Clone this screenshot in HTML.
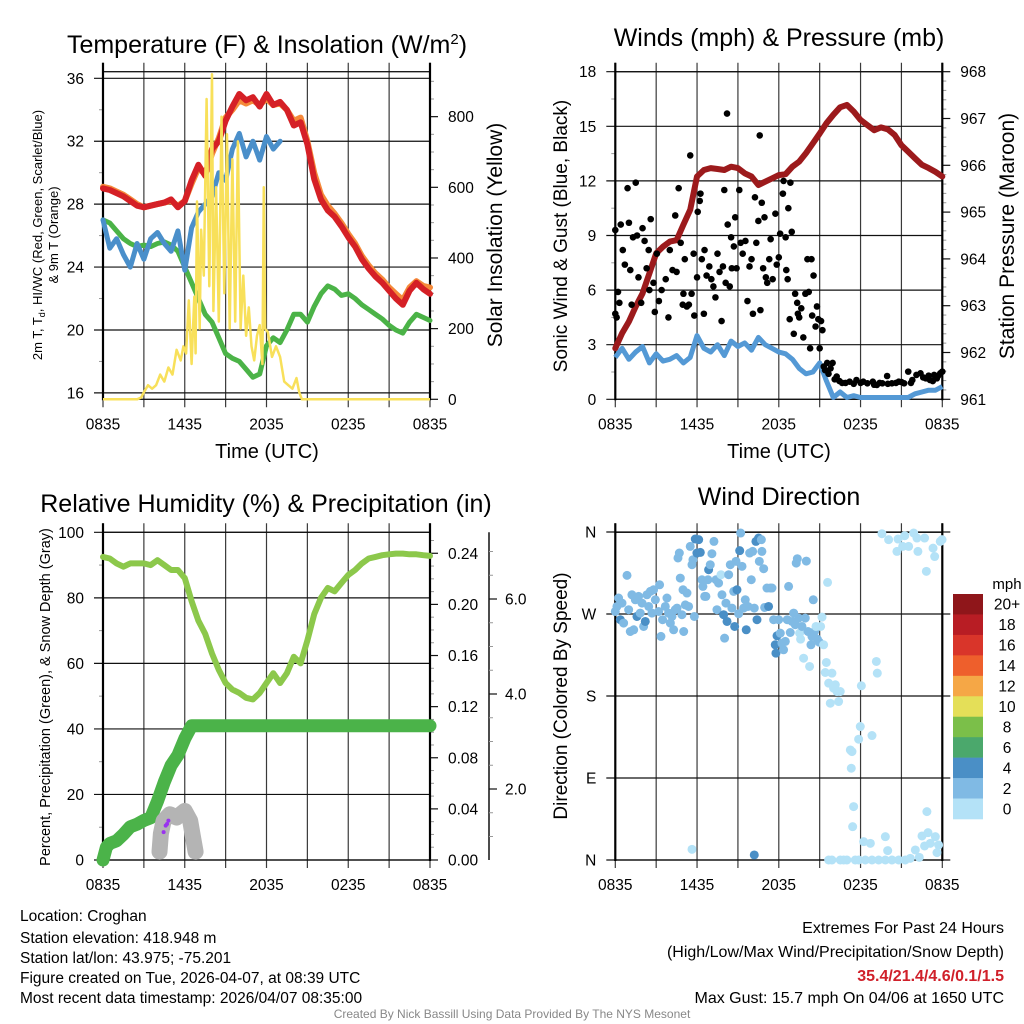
<!DOCTYPE html>
<html><head><meta charset="utf-8"><title>Croghan Meteogram</title>
<style>
html,body{margin:0;padding:0;background:#fff;}
svg{display:block;font-family:"Liberation Sans",Arial,sans-serif;}
</style></head>
<body>
<svg id="chart" width="1024" height="1024" viewBox="0 0 1024 1024" xmlns="http://www.w3.org/2000/svg">
<rect x="0" y="0" width="1024" height="1024" fill="#fff"/>
<text x="267" y="53" font-size="25" text-anchor="middle">Temperature (F) &amp; Insolation (W/m<tspan dy="-9" font-size="15">2</tspan><tspan dy="9">)</tspan></text>
<text x="779" y="46" font-size="25" text-anchor="middle">Winds (mph) &amp; Pressure (mb)</text>
<text x="266" y="512" font-size="25" text-anchor="middle">Relative Humidity (%) &amp; Precipitation (in)</text>
<text x="779" y="505" font-size="25" text-anchor="middle">Wind Direction</text>
<text x="267" y="458" font-size="20" text-anchor="middle">Time (UTC)</text>
<text x="779" y="458" font-size="20" text-anchor="middle">Time (UTC)</text>
<text transform="translate(42,235) rotate(-90)" font-size="13" text-anchor="middle">2m T, T<tspan font-size="9" dy="3">d</tspan><tspan dy="-3">, HI/WC (Red, Green, Scarlet/Blue)</tspan></text>
<text transform="translate(58,235) rotate(-90)" font-size="13" text-anchor="middle">&amp; 9m T (Orange)</text>
<text transform="translate(502,235) rotate(-90)" font-size="21" text-anchor="middle">Solar Insolation (Yellow)</text>
<text transform="translate(567,236) rotate(-90)" font-size="19" text-anchor="middle">Sonic Wind &amp; Gust (Blue, Black)</text>
<text transform="translate(1014,236) rotate(-90)" font-size="21" text-anchor="middle">Station Pressure (Maroon)</text>
<text transform="translate(50,697) rotate(-90)" font-size="14.5" text-anchor="middle">Percent, Precipitation (Green), &amp; Snow Depth (Gray)</text>
<text transform="translate(567,696) rotate(-90)" font-size="19" text-anchor="middle">Direction (Colored By Speed)</text>
<g font-size="15.5">
<text x="20" y="921">Location: Croghan</text>
<text x="20" y="943">Station elevation: 418.948 m</text>
<text x="20" y="963">Station lat/lon: 43.975; -75.201</text>
<text x="20" y="983">Figure created on Tue, 2026-04-07, at 08:39 UTC</text>
<text x="20" y="1003">Most recent data timestamp: 2026/04/07 08:35:00</text>
</g>
<g font-size="16" text-anchor="end">
<text x="1004" y="933">Extremes For Past 24 Hours</text>
<text x="1004" y="957">(High/Low/Max Wind/Precipitation/Snow Depth)</text>
<text x="1004" y="981" fill="#d0202a" font-weight="bold">35.4/21.4/4.6/0.1/1.5</text>
<text x="1004" y="1003">Max Gust: 15.7 mph On 04/06 at 1650 UTC</text>
</g>
<text x="512" y="1018" font-size="12" fill="#888" text-anchor="middle">Created By Nick Bassill Using Data Provided By The NYS Mesonet</text>
</svg>
<script>
// ---------- data ----------
const hours = [0,0.5,1,1.5,2,2.5,3,3.5,4,4.5,5,5.5,6,6.5,7,7.5,8,8.5,9,9.5,10,10.5,11,11.5,12,12.5,13,13.5,14,14.5,15,15.5,16,16.5,17,17.5,18,18.5,19,19.5,20,20.5,21,21.5,22,22.5,23,23.5,24];
const xTickLabels = ["0835","1435","2035","0235","0835"];
const tempRed = [29.0,28.9,28.7,28.5,28.2,27.9,27.8,27.9,28.0,28.1,28.3,27.8,28.2,29.5,30.5,29.8,31.5,32.0,33.3,34.2,35.0,34.6,34.8,34.2,35.0,34.3,34.5,34.0,33.0,33.2,31.8,29.6,28.3,27.6,27.2,26.6,25.9,25.3,24.5,23.9,23.4,23.0,22.5,22.0,21.6,22.5,23.0,22.6,22.3];
const temp9mOrange = [29.1,29.0,28.8,28.6,28.3,28.0,27.8,27.9,28.0,28.1,28.2,27.9,28.2,29.3,30.3,29.9,31.2,32.2,33.5,34.0,34.6,34.4,34.6,34.3,34.7,34.3,34.4,34.0,33.3,33.5,32.0,30.0,28.6,27.9,27.4,26.8,26.1,25.5,24.7,24.1,23.6,23.2,22.7,22.3,21.9,22.7,23.1,22.8,22.7];
const windChillBlue = [27.0,25.2,25.8,24.8,24.0,25.5,24.5,25.8,26.2,25.5,25.0,26.3,23.8,26.5,27.5,28.0,28.5,30.0,29.5,31.5,32.5,31.0,32.0,30.8,32.3,31.5,32.0,null,null,30.5,null,null,null,null,null,null,null,null,null,null,null,null,null,null,null,null,null,null,null];
const dewGreen = [27.0,26.8,26.3,25.8,25.5,25.3,25.4,25.3,25.5,25.6,25.4,25.0,24.0,23.0,22.0,21.0,20.5,19.5,18.5,18.2,18.0,17.5,17.0,17.2,19.0,19.5,19.2,20.0,21.0,21.0,20.5,21.5,22.3,22.8,22.6,22.2,22.3,22.0,21.6,21.3,21.0,20.7,20.3,20.0,19.8,20.5,21.0,20.8,20.6];
const tempTicks = [16,20,24,28,32,36];
const insolTicks = [0,200,400,600,800];
const insolHours = [0,2.5,2.8,3.0,3.3,3.6,3.9,4.2,4.5,4.8,5.1,5.4,5.7,5.9,6.1,6.3,6.5,6.7,6.8,6.9,7.1,7.2,7.4,7.6,7.8,8.0,8.1,8.3,8.5,8.7,8.9,9.1,9.3,9.5,9.7,9.9,10.1,10.3,10.5,10.7,10.9,11.1,11.3,11.5,11.7,11.8,11.9,12.1,12.4,12.7,13.0,13.3,13.6,13.9,14.2,14.4,14.6,14.9,24];
const insolValues = [0,0,5,20,40,30,40,70,50,90,70,140,110,150,130,280,100,290,130,560,200,480,350,850,320,920,250,600,220,800,300,750,200,680,220,730,200,350,180,260,150,110,180,210,100,600,200,190,120,150,120,50,40,30,60,20,0,0,0];

const windSpeed = [2.3,2.8,2.2,2.6,2.9,2.0,2.5,2.1,2.2,2.4,2.0,2.3,3.5,2.8,2.6,3.0,2.4,3.2,2.9,3.1,2.7,3.4,3.0,2.8,2.6,2.5,2.2,1.7,1.4,1.5,2.0,1.0,0.1,0.4,0.1,0.2,0.1,0.1,0.1,0.1,0.1,0.1,0.1,0.1,0.3,0.4,0.5,0.5,0.7];
const pressure = [962.09,962.41,962.66,962.98,963.26,963.69,964.12,964.26,964.37,964.40,964.73,965.05,965.76,965.90,965.94,965.92,965.90,965.97,965.94,965.83,965.76,965.58,965.65,965.72,965.79,965.81,965.97,966.08,966.26,966.47,966.68,966.90,967.08,967.24,967.29,967.15,966.97,966.86,966.75,966.81,966.77,966.65,966.43,966.29,966.15,966.01,965.94,965.86,965.76];
const gustHours = [0,0,0.1,0.2,0.3,0.4,0.55,0.7,0.9,1.0,
1.1,1.2,1.3,1.5,1.6,1.7,1.9,2.0,2.15,2.3,
2.45,2.5,2.6,2.8,2.9,3.05,3.2,3.4,3.7,3.9,
4.0,4.2,4.4,4.5,4.65,4.8,4.95,5.0,5.1,5.25,
5.4,5.5,5.6,5.75,5.8,6.0,6.05,6.2,6.25,6.35,
6.5,6.55,6.7,6.9,7.05,7.2,7.35,7.5,7.65,7.8,
7.9,8.0,8.1,8.25,8.2,8.4,8.5,8.55,8.7,8.8,
8.9,9.1,9.2,9.35,9.55,9.7,9.85,10.0,10.1,10.25,
10.35,10.5,10.6,10.65,10.75,10.85,10.95,11.05,11.15,11.3,
11.4,11.55,11.75,11.85,12.0,12.1,12.3,12.35,12.5,12.55,
12.65,12.7,12.8,12.85,12.95,13.1,13.2,13.35,13.4,13.5,
13.65,13.8,13.95,14.1,14.2,14.3,14.4,14.45,14.55,14.7,
14.8,14.9,15.0,15.1,15.2,15.3,15.4,15.55,15.65,15.8,
15.95,16.1,16.25,16.45,16.65,17.2,17.7,18.2,18.5,18.9,
19.2,19.6,19.95,20.3,20.8,21.2,21.5,21.8,22.1,22.4,
22.8,23.1,23.4,23.6,23.85,24.0,16.9,17.5,18.0,19.0,
19.4,20.0,20.6,21.0,21.7,22.6,23.0,23.3,23.7];
const gustValues = [4.7,9.3,4.5,5.9,5.3,9.6,8.2,7.4,11.6,9.7,
7.1,5.2,8.9,11.9,9.0,6.7,5.3,9.4,8.7,7.2,
8.2,6.0,9.9,6.4,4.8,8.0,5.4,6.0,6.6,4.5,
8.2,7.1,10.1,7.0,11.6,8.6,5.2,5.8,7.7,5.1,
5.2,13.4,5.8,8.0,4.6,6.7,10.3,10.9,11.3,7.7,
4.7,8.2,6.8,7.3,6.6,6.2,5.6,8.0,7.0,4.3,
7.3,11.5,6.4,9.6,15.7,6.2,8.9,7.2,8.4,10.0,
7.2,11.5,8.6,8.0,8.7,5.4,7.3,7.7,4.7,11.1,
8.6,9.8,14.5,4.9,10.8,7.2,10.0,6.7,6.4,7.7,
8.8,6.6,10.2,7.4,7.8,9.1,11.3,12.0,8.9,7.1,
6.6,10.5,4.4,11.9,9.2,3.6,5.8,5.3,4.7,4.5,
5.0,3.4,5.8,7.7,5.9,2.8,7.7,4.6,6.8,4.0,
5.1,4.4,2.8,4.3,3.8,1.8,1.6,2.0,1.4,1.7,
2.0,1.1,1.25,1.0,0.9,0.97,1.06,0.97,0.88,0.97,
0.79,0.88,1.28,0.88,0.97,0.88,1.52,1.06,1.34,1.43,
1.15,1.06,1.34,1.15,1.43,1.52,0.9,0.85,0.9,0.8,
0.9,0.85,0.9,0.95,0.9,1.2,1.3,1.0,1.3];
const windTicks = [0,3,6,9,12,15,18];
const pressureTicks = [961,962,963,964,965,966,967,968];

const rhValues = [92.5,92,90.5,89.5,90.5,90.5,90.5,90,91.5,90,88.5,88.5,86,79,73,69,63,58,54,52,51,49.5,49,51,54,57,54,57,62,60,67,75,80,83,82,84.5,87,88.5,90.5,92,92.5,93,93.3,93.5,93.5,93.3,93.3,93,92.8];
const precipHours = [0,0.25,0.5,1,1.5,2,2.5,3,3.5,4,4.5,5,5.5,6,6.5,24];
const precipInches = [0,0.010,0.013,0.015,0.020,0.026,0.028,0.031,0.033,0.046,0.061,0.074,0.082,0.095,0.105,0.105];
const snowHours = [4.15,4.25,4.45,4.9,5.4,6.0,6.4,6.6,6.8];
const snowInches = [0.68,1.06,1.33,1.47,1.40,1.54,1.33,1.0,0.68];
const purpleHours = [4.45,4.6,4.7,4.8];
const purplePct = [8.5,10.5,11,12];
const pctTicks = [0,20,40,60,80,100];
const precipTicks = [0,0.04,0.08,0.12,0.16,0.20,0.24];
const snowTicks = [2,4,6];
const snowTickLabels = ["2.0","4.0","6.0"];

const dirHours = [0,0.12,0.24,0.37,0.49,0.61,0.86,0.98,1.1,1.22,
1.35,1.47,1.59,1.71,1.83,1.96,2.08,2.2,2.32,2.45,
2.57,2.69,2.81,2.94,3.18,3.25,3.35,3.47,3.67,3.79,
3.91,4.04,4.16,4.28,4.4,4.53,4.6,4.7,4.77,4.89,
4.97,5.02,5.14,5.26,5.38,5.5,5.63,5.7,5.8,5.87,
5.99,6.12,6.24,6.36,6.43,6.56,6.65,6.8,6.85,6.97,
7.09,7.24,7.39,7.46,7.58,7.76,7.83,7.95,8.02,8.12,
8.2,8.32,8.44,8.56,8.69,8.76,8.86,8.93,9.05,9.13,
9.2,9.3,9.42,9.54,9.61,9.74,9.86,9.98,10.08,10.2,
10.32,10.4,10.52,10.57,10.72,10.76,10.89,10.96,11.13,11.25,
11.38,11.5,11.62,11.74,11.79,11.87,11.99,12.11,12.23,12.35,
12.48,12.62,12.72,12.84,12.97,13.09,13.21,13.28,13.36,13.46,
13.53,13.6,13.7,13.82,13.94,14.02,14.14,14.26,14.36,14.43,
14.53,14.63,14.73,14.83,14.97,15.07,15.17,15.29,15.41,15.49,
15.58,15.66,15.78,15.9,16.02,16.15,16.27,16.39,16.51,17.25,
17.32,17.37,17.49,17.42,17.86,17.98,18.06,18.23,18.72,18.84,
19.16,19.23,19.57,19.82,19.99,20.06,20.67,20.75,21.09,21.24,
21.53,21.9,22.02,22.14,22.21,22.31,22.51,22.7,22.7,22.83,
22.87,22.95,23.12,23.32,23.44,23.49,23.61,23.73,23.85,23.98,
5.63,10.2,15.66,15.9,16.51,16.76,17.0,17.61,17.86,18.35,
18.84,19.33,19.82,20.31,20.8,21.28,21.65];
const dirDegrees = [272.8,278.3,287.5,263.7,282,260,312.4,274.7,250.8,291.1,
252.7,285.6,267.3,289.3,271,282,256.3,261.8,291.1,278.3,
294.8,271,296.6,285.6,272.8,302.1,245.4,263.7,278.3,287.5,
271,260,267.3,252.7,274.7,276.5,331.5,336.9,309.4,269.2,
296.6,250.8,280,293,278.3,344.2,324.1,329.6,267.3,352.3,
336.9,351.6,337.6,307.6,300.3,289.3,289.3,307.6,318.6,324.1,
336.2,349.7,307.6,274.7,303.9,313.1,291.1,269.2,243.5,282,
261.8,313.1,324.1,276.5,294.8,256.3,327.8,296.6,270.3,339.5,
358.9,322.3,276.5,285.6,252.7,278.3,336.9,307.6,338.7,276.5,
349.7,263.7,353.4,327.8,351.6,338.7,319.7,277.2,298.5,278.3,
298.5,298.5,263.7,236.2,227,246.1,263.7,249,238,230.7,
239.9,263.7,300.3,249.7,261.8,271,258.2,325.9,330.7,265.5,
249,242.4,256.3,221.5,265.5,328.1,250.8,212.4,236.2,245.4,
285.6,250.8,256.3,242.4,239.1,256.3,266.6,236.2,205.8,216.8,
304.7,194.1,172.1,205.1,188.6,192.3,184.9,173.9,184.9,120.8,
100.7,119,58.6,36.6,132.6,146.5,191.2,20.1,18.3,136.6,
217.9,205.1,358.1,25.6,10.3,351.6,338.7,352.3,344.2,355.9,
344.2,358.9,11,353.4,338.7,2.9,26.4,353.4,15.4,316.8,
53.1,30,18.3,342.3,333.1,25.6,8.1,16.5,349.7,351.6,
11.7,5.5,0,0,0,0,0,0,0,0,
0,0,0,0,0,0,1.8];
const dirSpeeds = [3,3,3,5,3,3,3,3,3,3,
3,3,5,3,3,3,3,5,3,3,
3,3,3,3,3,3,3,3,3,3,
3,3,3,3,3,3,3,3,3,3,
3,3,3,3,3,3,3,3,3,5,
5,5,5,3,3,3,3,3,5,3,
3,3,3,3,3,1,3,5,3,3,
5,3,3,3,3,5,3,5,3,5,
3,3,3,3,5,3,3,3,3,3,
5,5,5,3,3,3,3,3,3,5,
3,3,3,5,5,5,3,3,3,3,
3,3,3,3,3,3,3,3,3,3,
1,1,3,1,3,3,3,1,3,3,
3,3,1,3,3,1,1,1,1,1,
1,1,1,1,1,1,1,1,1,1,
1,1,1,1,1,1,1,1,1,1,
1,1,1,1,1,1,1,1,1,1,
1,1,1,1,1,1,1,1,1,1,
1,1,1,1,1,1,1,1,1,1,
1,5,1,1,1,1,1,1,1,1,
1,1,1,1,1,1,1];
const dirTicks = [0,90,180,270,360];
const dirTickLabels = ["N","E","S","W","N"];
const speedBins = [0,2,4,6,8,10,12,14,16,18,20];
const speedBinLabels = ["0","2","4","6","8","10","12","14","16","18","20+"];
const speedColors = ["#b4e2f7","#80bae4","#4a8fc6","#4ba86c","#7bbf49","#e4df58","#f5a746","#ee5f2c","#d9352a","#b81d24","#8f161a"];

// ---------- helpers ----------
const NS = 'http://www.w3.org/2000/svg';
const svg = document.getElementById('chart');
function mk(tag, attrs, parent) {
  const e = document.createElementNS(NS, tag);
  for (const k in attrs) e.setAttribute(k, attrs[k]);
  (parent || svg).appendChild(e);
  return e;
}
const PW = 327;
function xOf(x0, h) { return x0 + h * PW / 24; }
function pathFrom(xs, ys) {
  let d = '', pen = false;
  for (let i = 0; i < xs.length; i++) {
    if (ys[i] === null || ys[i] === undefined) { pen = false; continue; }
    d += (pen ? 'L' : 'M') + xs[i].toFixed(1) + ' ' + ys[i].toFixed(1);
    pen = true;
  }
  return d;
}

function drawTimeAxis(g, x0, yT, yB, name) {
  for (let k = 0; k <= 8; k++) {
    const x = xOf(x0, k * 3);
    const ln = mk('line', {x1: x, y1: yT - 9, x2: x, y2: yB + 8, stroke: '#3a3a3a', 'stroke-width': 1.2}, g);
    
    
    if (k % 2 === 0) {
      const t = mk('text', {x: x, y: yB + 30, 'font-size': 15.5, 'text-anchor': 'middle'}, g);
      t.textContent = xTickLabels[k / 2];
      
      
    }
  }
}
function drawLeftAxis(g, x0, vals, labels, yfn, minor, name) {
  vals.forEach((v, i) => {
    const y = yfn(v);
    const ln = mk('line', {x1: x0 - 9, y1: y, x2: x0 + PW, y2: y, stroke: '#111', 'stroke-width': 1.2}, g);
    
    
    const t = mk('text', {x: x0 - 19, y: y + 5.5, 'font-size': 15.5, 'text-anchor': 'end'}, g);
    t.textContent = labels[i];
    
    
  });
  minor.forEach(v => {
    const y = yfn(v);
    const ln = mk('line', {x1: x0 - 4, y1: y, x2: x0, y2: y, stroke: '#999', 'stroke-width': 1}, g);
    
    
  });
}
function drawRightAxis(g, x1, vals, labels, yfn, minor, name, lx, tickLen) {
  vals.forEach((v, i) => {
    const y = yfn(v);
    const ln = mk('line', {x1: x1, y1: y, x2: x1 + (tickLen || 8), y2: y, stroke: '#111', 'stroke-width': 1.2}, g);
    
    
    const t = mk('text', {x: lx || (x1 + 18), y: y + 5.5, 'font-size': 15.5}, g);
    t.textContent = labels[i];
    
    
  });
  minor.forEach(v => {
    const y = yfn(v);
    const ln = mk('line', {x1: x1, y1: y, x2: x1 + 4, y2: y, stroke: '#999', 'stroke-width': 1}, g);
    
    
  });
}
function range(a, b, s) { const r = []; for (let v = a; v <= b + 1e-9; v += s) r.push(+v.toFixed(4)); return r; }
function drawFrame(g, x0, yT, yB, name) {
  const r = mk('rect', {x: x0, y: yT, width: PW, height: yB - yT, fill: 'none', stroke: '#111', 'stroke-width': 1.3}, g);
  
  
  const l = mk('line', {x1: x0, y1: yT - 9, x2: x0, y2: yB + 1, stroke: '#000', 'stroke-width': 2.2}, g);
  
  
  const r2 = mk('line', {x1: x0 + PW, y1: yT - 9, x2: x0 + PW, y2: yB + 1, stroke: '#000', 'stroke-width': 2.2}, g);
  
  
}

// ---------- Panel 1: temperature ----------
(function () {
  const x0 = 103, yT = 71.7, yB = 399.3;
  const yT_ = v => 78.3 + (36 - v) * 15.73;
  const yI = v => 399.3 - v * 0.3533;
  const g = mk('g', {});
  
  
  drawTimeAxis(g, x0, yT, yB, 'temp');
  drawLeftAxis(g, x0, tempTicks, tempTicks.map(String), yT_, [18, 22, 26, 30, 34], 'temp');
  drawRightAxis(g, x0 + PW, insolTicks, insolTicks.map(String), yI, range(50, 900, 50).filter(v => v % 200), 'insolation');
  drawFrame(g, x0, yT, yB, 'temp');
  const xs = hours.map(h => xOf(x0, h));
  const o = mk('path', {d: pathFrom(xs, temp9mOrange.map(yT_)), fill: 'none', stroke: '#f58a3a', 'stroke-width': 6, 'stroke-linejoin': 'round', 'stroke-linecap': 'round'}, g);
  
  
  const r = mk('path', {d: pathFrom(xs, tempRed.map(yT_)), fill: 'none', stroke: '#d52026', 'stroke-width': 6, 'stroke-linejoin': 'round', 'stroke-linecap': 'round'}, g);
  
  
  const gr = mk('path', {d: pathFrom(xs, dewGreen.map(yT_)), fill: 'none', stroke: '#4bb347', 'stroke-width': 5, 'stroke-linejoin': 'round', 'stroke-linecap': 'round'}, g);
  
  
  const b = mk('path', {d: pathFrom(xs, windChillBlue.map(v => v === null ? null : yT_(v))), fill: 'none', stroke: '#4a8fca', 'stroke-width': 5, 'stroke-linejoin': 'round', 'stroke-linecap': 'round'}, g);
  
  
  const y = mk('path', {d: pathFrom(insolHours.map(h => xOf(x0, h)), insolValues.map(yI)), fill: 'none', stroke: '#f8e05a', 'stroke-width': 2.5, 'stroke-linejoin': 'round'}, g);
  
  
})();

// ---------- Panel 2: winds ----------
(function () {
  const x0 = 615.3, yT = 71.7, yB = 399.3;
  const yW = v => 399.3 - v * 18.2;
  const yP = p => 399.3 - (p - 961) * 46.8;
  const g = mk('g', {});
  
  
  drawTimeAxis(g, x0, yT, yB, 'wind');
  drawLeftAxis(g, x0, windTicks, windTicks.map(String), yW, [1.5, 4.5, 7.5, 10.5, 13.5, 16.5], 'wind');
  drawRightAxis(g, x0 + PW, pressureTicks, pressureTicks.map(String), yP, range(961.2, 967.8, 0.2).filter(v => Math.abs(v - Math.round(v)) > 0.01), 'pressure');
  drawFrame(g, x0, yT, yB, 'wind');
  const xs = hours.map(h => xOf(x0, h));
  const w = mk('path', {d: pathFrom(xs, windSpeed.map(yW)), fill: 'none', stroke: '#5499d5', 'stroke-width': 5, 'stroke-linejoin': 'round'}, g);
  
  
  const p = mk('path', {d: pathFrom(xs, pressure.map(yP)), fill: 'none', stroke: '#9c1a1c', 'stroke-width': 6, 'stroke-linejoin': 'round', 'stroke-linecap': 'round'}, g);
  
  
  gustHours.forEach((h, i) => {
    const c = mk('circle', {cx: xOf(x0, h), cy: yW(gustValues[i]), r: 3.3, fill: '#000'}, g);
    
    
  });
})();

// ---------- Panel 3: humidity ----------
(function () {
  const x0 = 103, yT = 532.3, yB = 860;
  const yPct = v => 860 - v * 3.277;
  const yPr = v => 860 - v * 1278;
  const ySn = v => 884 - v * 47.5;
  const g = mk('g', {});
  
  
  drawTimeAxis(g, x0, yT, yB, 'rh');
  drawLeftAxis(g, x0, pctTicks, pctTicks.map(String), yPct, [10, 30, 50, 70, 90], 'rh');
  drawRightAxis(g, x0 + PW, precipTicks, precipTicks.map(v => v.toFixed(2)), yPr, range(0.01, 0.25, 0.01).filter(v => Math.round(v * 100) % 4), 'precip');
  const ax = mk('line', {x1: 489, y1: yT, x2: 489, y2: yB, stroke: '#111', 'stroke-width': 1.5}, g);
  
  
  drawRightAxis(g, 489, snowTicks, snowTickLabels, ySn, range(0.5, 7.0, 0.5).filter(v => v % 2 && ySn(v) >= yT && ySn(v) <= yB), 'snow', 505);
  drawFrame(g, x0, yT, yB, 'rh');
  const xs = hours.map(h => xOf(x0, h));
  const rh = mk('path', {d: pathFrom(xs, rhValues.map(yPct)), fill: 'none', stroke: '#8cc84b', 'stroke-width': 6, 'stroke-linejoin': 'round', 'stroke-linecap': 'round'}, g);
  
  
  const pr = mk('path', {d: pathFrom(precipHours.map(h => xOf(x0, h)), precipInches.map(yPr)), fill: 'none', stroke: '#4bb349', 'stroke-width': 13, 'stroke-linejoin': 'round', 'stroke-linecap': 'round'}, g);
  
  
  const sn = mk('path', {d: pathFrom(snowHours.map(h => xOf(x0, h)), snowInches.map(ySn)), fill: 'none', stroke: '#b4b4b4', 'stroke-width': 16, 'stroke-linejoin': 'round', 'stroke-linecap': 'round'}, g);
  
  
  purpleHours.forEach((h, i) => {
    const c = mk('circle', {cx: xOf(x0, h), cy: yPct(purplePct[i]), r: 2, fill: '#9933ee'}, g);
    
    
  });
})();

// ---------- Panel 4: wind direction ----------
(function () {
  const x0 = 615.3, yT = 532.3, yB = 860;
  const yD = d => 860 - d * 0.9111;
  const g = mk('g', {});
  
  
  drawTimeAxis(g, x0, yT, yB, 'dir');
  drawLeftAxis(g, x0, dirTicks, dirTickLabels, yD, [], 'dir');
  dirTicks.forEach(d => {
    const ln = mk('line', {x1: x0 + PW, y1: yD(d), x2: x0 + PW + 8, y2: yD(d), stroke: '#111', 'stroke-width': 1.2}, g);
    
    
  });
  drawFrame(g, x0, yT, yB, 'dir');
  function colorFor(s) { let k = 0; for (let i = 0; i < speedBins.length; i++) if (s >= speedBins[i]) k = i; return speedColors[k]; }
  dirHours.forEach((h, i) => {
    const c = mk('circle', {cx: xOf(x0, h), cy: yD(dirDegrees[i]), r: 4.5, fill: colorFor(dirSpeeds[i])}, g);
    
    
  });
  // colorbar
  const cb = mk('g', {}, svg);
  
  
  const t0 = mk('text', {x: 1007, y: 589, 'font-size': 15, 'text-anchor': 'middle'}, cb);
  t0.textContent = 'mph';
  
  
  const n = speedBins.length, top = 594, bot = 819, bh = (bot - top) / n;
  for (let i = 0; i < n; i++) {
    const k = n - 1 - i;
    const r = mk('rect', {x: 953, y: top + i * bh, width: 30, height: bh + 0.3, fill: speedColors[k]}, cb);
    
    
    const t = mk('text', {x: 1007, y: top + i * bh + bh / 2 + 5.5, 'font-size': 15.5, 'text-anchor': 'middle'}, cb);
    t.textContent = speedBinLabels[k];
    
    
  }
})();
</script>
</body></html>
